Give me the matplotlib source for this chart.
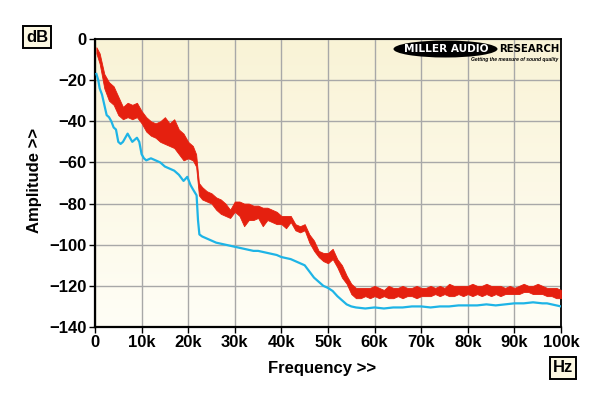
import matplotlib
matplotlib.use("Agg")
import matplotlib.pyplot as plt
from matplotlib.patches import Ellipse
import numpy as np

# red trace: frequency (kHz) with lower / upper edge of the noisy band (dB)
red_f = [0.3, 1, 2, 3, 4, 5, 6, 7, 8, 9, 10, 11, 12, 13, 14, 15, 16, 17, 18, 19,
         20, 21, 21.7, 22.3, 23, 24, 25, 26, 27, 28, 29, 30, 31, 32, 33, 34, 35, 36,
         37, 38, 39, 40, 41, 42, 43, 44, 45, 46, 47, 48, 49, 50, 51, 52, 53, 54, 55,
         56, 57, 58, 59, 60, 61, 62, 63, 64, 65, 66, 67, 68, 69, 70, 71, 72, 73, 74,
         75, 76, 77, 78, 79, 80, 81, 82, 83, 84, 85, 86, 87, 88, 89, 90, 91, 92, 93,
         94, 95, 96, 97, 98, 99, 100]
red_lo = [-7, -12, -24, -30, -32, -37, -39, -38, -39, -38, -41, -45, -47, -48, -50, -51,
          -52, -53, -56, -59, -58, -59, -62, -76, -78, -79, -80, -83, -85, -86, -87, -84,
          -86, -91, -88, -88, -87, -91, -88, -89, -90, -90, -92, -89, -93, -94, -93, -99,
          -103, -106, -108, -109, -107, -111, -116, -119, -124, -126, -126, -125, -126,
          -125, -126, -125, -126, -126, -125, -126, -125, -125, -126, -125, -125, -125,
          -124, -125, -124, -125, -125, -124, -125, -124, -125, -124, -125, -124, -125,
          -124, -125, -124, -124, -124, -124, -123, -123, -124, -124, -124, -125, -125,
          -126, -126]
red_hi = [-4, -7, -17, -21, -23, -28, -33, -31, -32, -31, -35, -38, -40, -41, -40, -38,
          -41, -39, -44, -46, -50, -52, -56, -70, -72, -74, -75, -77, -78, -80, -83, -79,
          -79, -80, -80, -81, -81, -82, -82, -83, -84, -86, -86, -86, -90, -91, -90, -95,
          -98, -103, -104, -104, -102, -107, -110, -115, -119, -121, -121, -121, -121,
          -120, -121, -122, -120, -121, -121, -120, -121, -121, -120, -121, -121, -120,
          -121, -120, -121, -119, -120, -120, -120, -120, -119, -120, -120, -119, -120,
          -120, -120, -121, -120, -121, -120, -119, -120, -120, -119, -120, -121, -121,
          -121, -122]

# cyan trace
cyan_f = [0.3, 0.7, 1, 1.5, 2, 2.5, 3, 3.5, 4, 4.5, 5, 5.5, 6, 6.5, 7, 7.5, 8, 8.5, 9,
          9.5, 10, 10.5, 11, 12, 13, 14, 15, 16, 17, 18, 19, 19.8, 20.5, 21, 21.8, 22.1,
          22.4, 23, 24, 25, 26, 27, 28, 29, 30, 31, 32, 33, 34, 35, 36, 37, 38, 39, 40,
          41, 42, 43, 44, 45, 46, 47, 48, 49, 50, 51, 52, 53, 54, 55, 56, 58, 60, 62, 64,
          66, 68, 70, 72, 74, 76, 78, 80, 82, 84, 86, 88, 90, 92, 94, 96, 97, 98, 99, 100]
cyan_db = [-17, -20, -24, -27, -32, -37, -38, -40, -43, -44, -50, -51, -50, -48, -46, -48,
           -50, -49, -48, -50, -56, -58, -59, -58, -59, -60, -62, -63, -64, -66, -69, -67,
           -71, -73, -76, -88, -95, -96, -97, -98, -99, -99.5, -100, -100.5, -101, -101.5,
           -102, -102.5, -103, -103, -103.5, -104, -104.5, -105, -106, -106.5, -107, -108,
           -109, -110, -113, -116, -118, -120, -121, -122.5, -125, -127, -129, -130,
           -130.5, -131, -130.5, -131, -130.5, -130.5, -130, -130, -130.5, -130, -130,
           -129.5, -129.5, -129.5, -129, -129.5, -129, -128.5, -128.5, -128, -128.5,
           -128.5, -129, -129.5, -130]

x_ticks = [0, 10, 20, 30, 40, 50, 60, 70, 80, 90, 100]
x_labels = ["0", "10k", "20k", "30k", "40k", "50k", "60k", "70k", "80k", "90k", "100k"]
y_ticks = [0, -20, -40, -60, -80, -100, -120, -140]

plt.rcParams['font.family'] = ['Liberation Sans', 'DejaVu Sans']
plt.rcParams['font.weight'] = 'bold'
fs = 12

fig = plt.figure(figsize=(6, 3.96), dpi=100)
ax = fig.add_axes([95 / 600, 69 / 396, 466 / 600, 288 / 396])

# yellowish gradient background
grad = np.linspace(0, 1, 256).reshape(-1, 1)
top = np.array([249, 243, 214]) / 255
bot = np.array([255, 254, 246]) / 255
img = top + (bot - top) * grad[:, :, None] * np.ones((1, 1, 3))
ax.imshow(img, extent=[0, 100, -140, 0], aspect='auto', zorder=0, interpolation='bilinear')

ax.set_xlim(0, 100)
ax.set_ylim(-140, 0)
ax.set_axisbelow(True)
ax.grid(True, color='#a8a8a8', linewidth=1.0)

ax.plot(cyan_f, cyan_db, color='#1eb4e6', linewidth=1.6, zorder=3)
ax.fill_between(red_f, red_lo, red_hi, color='#e5200f', linewidth=0.6,
                edgecolor='#e5200f', zorder=4)

ax.set_xticks(x_ticks)
ax.set_xticklabels(x_labels)
ax.set_yticks(y_ticks)
ax.tick_params(direction='out', length=4, width=1, labelsize=fs, pad=2)
for lab in ax.get_xticklabels() + ax.get_yticklabels():
    lab.set_fontweight('bold')
for s in ['left', 'bottom']:
    ax.spines[s].set_linewidth(1.6)
for s in ['top', 'right']:
    ax.spines[s].set_linewidth(1.3)

fig.text(322 / 600, 1 - 369 / 396, "Frequency >>", ha='center', va='center',
         fontsize=fs, fontweight='bold')
fig.text(34 / 600, 1 - 180 / 396, "Amplitude >>", ha='center', va='center',
         fontsize=fs, fontweight='bold', rotation=90)

box = dict(boxstyle='square,pad=0.2', facecolor='#fcf8e2', edgecolor='black', linewidth=1.4)
fig.text(37 / 600, 1 - 37 / 396, "dB", ha='center', va='center',
         fontsize=fs, fontweight='bold', bbox=box)
fig.text(563 / 600, 1 - 368 / 396, "Hz", ha='center', va='center',
         fontsize=fs, fontweight='bold', bbox=box)

# logo
logo = Ellipse((445.5 / 100, (396 - 49) / 100), 1.04, 0.17, transform=fig.dpi_scale_trans,
               facecolor='black', edgecolor='none', zorder=10)
fig.patches.append(logo)
fig.text(446 / 600, 1 - 49 / 396, "MILLER AUDIO", ha='center', va='center', color='white',
         fontsize=7.6, fontweight='heavy', family='DejaVu Sans', zorder=11)
fig.text(559 / 600, 1 - 49.5 / 396, "RESEARCH", ha='right', va='center', color='black',
         fontsize=7.3, fontweight='heavy', family='DejaVu Sans', zorder=11)
fig.text(558 / 600, 1 - 59.5 / 396, "Getting the measure of sound quality", ha='right',
         va='center', color='black', fontsize=3.6, fontweight='bold', style='italic', zorder=11)

fig.savefig("out.png", dpi=100)
